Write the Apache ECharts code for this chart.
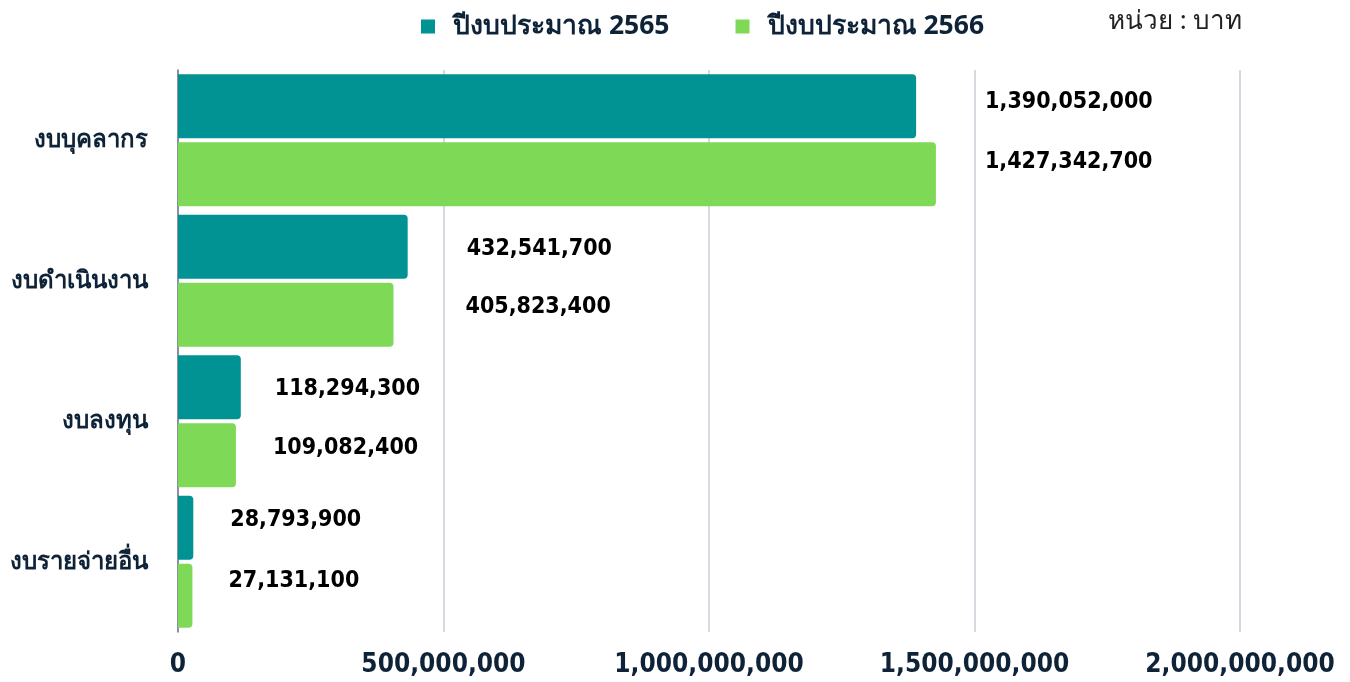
<!DOCTYPE html>
<html><head><meta charset="utf-8">
<script src="https://cdn.jsdelivr.net/npm/echarts@6/dist/echarts.min.js"></script>
<style>html,body{margin:0;padding:0;background:#fff}#c{width:1350px;height:682px}</style>
</head><body><div id="c"></div>
<script>
const categories = ['งบบุคลากร', 'งบดำเนินงาน', 'งบลงทุน', 'งบรายจ่ายอื่น'];
const seriesNames = ['ปีงบประมาณ 2565', 'ปีงบประมาณ 2566'];
const values2565 = [1390052000, 432541700, 118294300, 28793900];
const values2566 = [1427342700, 405823400, 109082400, 27131100];
const xTicks = [0, 500000000, 1000000000, 1500000000, 2000000000];
const unitText = 'หน่วย : บาท';

// label placement styling (offsets from bar end), not data
const labelGap2565 = [[69, -4], [59, 2], [34, 2], [37, -8]];
const labelGap2566 = [[49, -12], [72, -8], [37, -7], [36, -15]];

const fmt = v => Number(v).toLocaleString('en-US');
const labelFont = {fontFamily: '"DejaVu Sans Condensed", sans-serif', fontWeight: 'bold', fontSize: 23, color: '#000'};

function mk(vals, gaps) {
  return vals.map((v, i) => ({value: v, label: {distance: gaps[i][0], offset: [0, gaps[i][1]]}}));
}

const chart = echarts.init(document.getElementById('c'), null, {renderer: 'canvas'});
chart.setOption({
  animation: false,
  legend: {
    top: 8, left: 416,
    itemWidth: 14, itemHeight: 14, itemGap: 66,
    icon: 'rect',
    textStyle: {fontSize: 26.5, fontWeight: 'bold', color: '#0f2338', padding: [0, 0, 0, 13],
      fontFamily: '"Noto Sans", "DejaVu Sans", sans-serif'},
    data: seriesNames
  },
  graphic: [{type: 'text', left: 1108, top: 9, style: {text: unitText, fontSize: 26, fill: '#222', fontFamily: '"Noto Sans", "DejaVu Sans", sans-serif'}}],
  grid: {left: 178, right: 110, top: 70, bottom: 50, containLabel: false},
  xAxis: {
    type: 'value', min: 0, max: 2000000000, interval: 500000000,
    axisLine: {show: false}, axisTick: {show: false},
    splitLine: {lineStyle: {color: '#c9ced6', width: 1.5}},
    axisLabel: {formatter: v => fmt(v), fontSize: 26, fontWeight: 'bold', color: '#0f2338', margin: 20,
      fontFamily: '"DejaVu Sans Condensed", sans-serif'}
  },
  yAxis: {
    type: 'category', data: categories, inverse: true,
    axisLine: {show: true, lineStyle: {color: '#6b7a8c', width: 1.5}},
    axisTick: {show: false},
    axisLabel: {fontSize: 24, fontWeight: 'bold', color: '#0f2338', margin: 30,
      fontFamily: '"Noto Sans", "DejaVu Sans", sans-serif'}
  },
  series: [
    {name: seriesNames[0], type: 'bar', data: mk(values2565, labelGap2565), barWidth: 64, barGap: '6%',
      itemStyle: {color: '#019294', borderRadius: [0, 4, 4, 0]},
      label: Object.assign({show: true, position: 'right', formatter: p => fmt(p.value)}, labelFont)},
    {name: seriesNames[1], type: 'bar', data: mk(values2566, labelGap2566), barWidth: 64,
      itemStyle: {color: '#7ed957', borderRadius: [0, 4, 4, 0]},
      label: Object.assign({show: true, position: 'right', formatter: p => fmt(p.value)}, labelFont)}
  ]
});
</script></body></html>
